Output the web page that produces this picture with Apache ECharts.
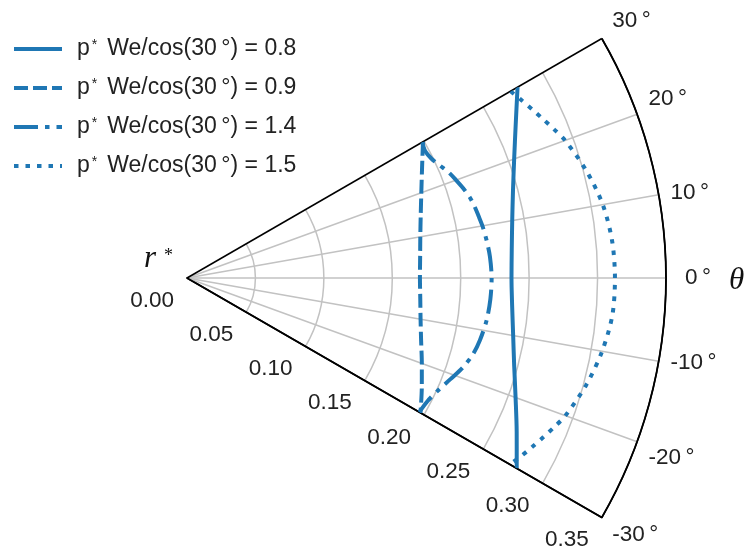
<!DOCTYPE html>
<html><head><meta charset="utf-8">
<script src="https://cdn.jsdelivr.net/npm/echarts@6/dist/echarts.min.js"></script>
<style>html,body{margin:0;padding:0;background:#fff}#c{width:747px;height:552px}</style>
</head><body><div id="c"></div>
<script>
// series names
const seriesNames = ['p*We/cos(30\u2009°) = 0.8', 'p*We/cos(30\u2009°) = 0.9', 'p*We/cos(30\u2009°) = 1.4', 'p*We/cos(30\u2009°) = 1.5'];
// data as [r*, theta(deg)]
const solid08 = [[0.2789,30],[0.2650,25],[0.2544,20],[0.2466,15],[0.2413,10],[0.2382,5],[0.2371,0],[0.2385,-5],[0.2420,-10],[0.2475,-15],[0.2555,-20],[0.2658,-25],[0.2782,-30]];
const dashed09 = [[0.1991,30],[0.1895,25],[0.1822,20],[0.1768,15],[0.1731,10],[0.1710,5],[0.1702,0],[0.1711,-5],[0.1733,-10],[0.1771,-15],[0.1826,-20],[0.1893,-25],[0.1970,-30]];
const dashdot14 = [[0.1985,30],[0.1972,28],[0.1988,26],[0.2022,24],[0.2062,22],[0.2092,20],[0.2122,18],[0.2148,16],[0.2165,14],[0.2178,12],[0.2192,10],[0.2207,7],[0.2219,4],[0.2226,0],[0.2222,-4],[0.2211,-8],[0.2188,-12],[0.2162,-15],[0.2118,-18],[0.2062,-21],[0.2012,-24],[0.1975,-27],[0.1960,-30]];
const dotted15 = [[0.2730,30],[0.2768,28],[0.2808,26],[0.2850,24],[0.2895,22],[0.2940,20],[0.3022,15],[0.3085,10],[0.3118,5],[0.3127,0],[0.3120,-5],[0.3080,-10],[0.3020,-15],[0.2942,-20],[0.2898,-22],[0.2853,-24],[0.2810,-26],[0.2768,-28],[0.2723,-30]];
// axes
const angleMin = -30, angleMax = 30, angleStep = 10;
const radiusMin = 0, radiusMax = 0.35, radiusStep = 0.05;

const BLUE = '#1f77b4';
const GRID = '#c2c2c2';
const FONT = 'Liberation Sans';
const chart = echarts.init(document.getElementById('c'), null, {renderer: 'canvas'});
const nAng = (angleMax - angleMin) / angleStep + 1;
const angColors = Array.from({length: nAng}, (_, i) => (i === 0 || i === nAng - 1) ? '#000' : GRID);
const nRad = Math.round((radiusMax - radiusMin) / radiusStep) + 1;
const radColors = Array.from({length: nRad}, (_, i) => i === nRad - 1 ? '#000' : GRID);

function mk(name, data, dash) {
  return {
    name, type: 'line', coordinateSystem: 'polar', data, symbol: 'none', showSymbol: false,
    smooth: 0.3, animation: false,
    lineStyle: {color: BLUE, width: 4, type: dash, cap: 'butt'},
    itemStyle: {color: BLUE}
  };
}

chart.setOption({
  animation: false,
  polar: {center: [187, 278], radius: 479},
  angleAxis: {
    type: 'value', min: angleMin, max: angleMax, interval: angleStep,
    startAngle: -30, endAngle: 30, clockwise: false,
    axisLine: {show: true, lineStyle: {color: '#000', width: 1.8}},
    axisTick: {show: false},
    axisLabel: {show: true, margin: 12, fontFamily: FONT, fontSize: 22.5, color: '#222',
      formatter: v => v === 0 ? '{z|0\u2009°}' : v + '\u2009°',
      rich: {z: {fontFamily: FONT, fontSize: 22.5, color: '#222', padding: [0, 0, 0, 7]}}},
    splitLine: {show: true, lineStyle: {color: angColors, width: 1.5}}
  },
  radiusAxis: {
    type: 'value', min: radiusMin, max: radiusMax, interval: radiusStep,
    axisLine: {show: true, lineStyle: {color: '#000', width: 1.8}},
    axisTick: {show: false},
    axisLabel: {show: true, margin: -26, align: 'right', verticalAlign: 'middle',
      fontFamily: FONT, fontSize: 22.5, color: '#222', formatter: v => v.toFixed(2)},
    splitLine: {show: true, lineStyle: {color: radColors, width: 1.5}}
  },
  legend: {
    orient: 'vertical', left: 12, top: 37, padding: 0, itemWidth: 48, itemHeight: 14, itemGap: 15,
    selectedMode: false,
    data: seriesNames,
    itemStyle: {color: 'rgba(0,0,0,0)', borderColor: 'rgba(0,0,0,0)', borderWidth: 0},
    lineStyle: {width: 4},
    formatter: n => n.replace('*', '{sup|*}'),
    textStyle: {fontFamily: FONT, fontSize: 23, color: '#222', lineHeight: 24, padding: [0, 0, 0, 10],
      rich: {sup: {fontFamily: FONT, fontSize: 14, color: '#222', verticalAlign: 'top', lineHeight: 24, padding: [1, 10, 0, 2]}}}
  },
  graphic: [
    {type: 'text', left: 144, top: 243, style: {text: 'r', font: 'italic 31px "Liberation Serif"', fill: '#111'}},
    {type: 'text', left: 164, top: 247, style: {text: '*', font: '18px "Liberation Serif"', fill: '#111'}},
    {type: 'text', left: 729, top: 265, style: {text: 'θ', font: 'italic 31px "Liberation Serif"', fill: '#111'}}
  ],
  series: [
    mk(seriesNames[0], solid08, 'solid'),
    mk(seriesNames[1], dashed09, [14, 5]),
    mk(seriesNames[2], dashdot14, [24, 7, 4.5, 7]),
    mk(seriesNames[3], dotted15, [4.5, 7])
  ]
});
</script></body></html>
